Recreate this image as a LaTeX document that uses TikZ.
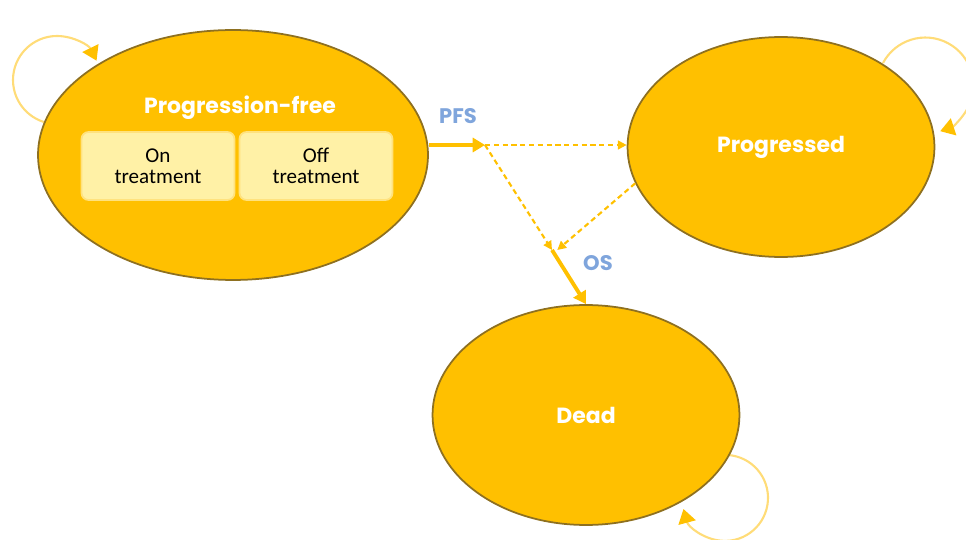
\documentclass[tikz,border=0pt]{standalone}
\usepackage{fontspec}
\usetikzlibrary{shapes.geometric}
\usetikzlibrary{arrows.meta}
\newfontfamily\gothic{Poppins}
\newfontfamily\calib{Carlito}
\definecolor{gold}{HTML}{FFC000}
\definecolor{goldedge}{HTML}{8E7020}
\definecolor{loopcol}{HTML}{FFDC78}
\definecolor{boxfill}{HTML}{FFF1A6}
\definecolor{boxedge}{HTML}{FFE27E}
\definecolor{lblue}{HTML}{7FA5DC}
\tikzset{>=stealth}
\tikzset{
	% states
	state/.style={ellipse,fill=gold,draw=goldedge,line width=1pt,text=white,font=\gothic\bfseries\fontsize{12.5}{14}\selectfont},
	title/.style={text=white,font=\gothic\bfseries\fontsize{12.5}{14}\selectfont},
	% sub boxes
	subbox/.style={rounded corners=4pt,fill=boxfill,draw=boxedge,line width=1pt,minimum width=3.06cm,minimum height=1.36cm,align=center,font=\calib\fontsize{12}{12}\selectfont,text=black},
	% arrows
	flow/.style={draw=gold,line width=2.2pt,-{Triangle[length=7pt,width=8pt]}},
	dflow/.style={draw=gold,line width=1.2pt,dash pattern=on 3pt off 2pt,-{Triangle[length=5pt,width=5pt]}},
	selfloop/.style={draw=loopcol,line width=1.2pt,-{Triangle[length=8pt,width=10pt,color=gold]}},
	lbl/.style={text=lblue,font=\gothic\bfseries\fontsize{12}{14}\selectfont},
}
\begin{document}
\begin{tikzpicture}[x=0.02cm,y=-0.02cm]
\useasboundingbox (0,0) rectangle (966,540);
% staying in a state
\draw[selfloop] (57,124) arc[start angle=90,end angle=334,radius=44];
\draw[selfloop] (883,63) arc[start angle=208,end angle=432,radius=48];
\draw[selfloop] (728,455) arc[start angle=274,end angle=525,radius=43];
% the three states
\node[state,minimum width=7.8cm,minimum height=5cm] (pfree) at (233,155) {};
\node[title] (pftitle) at (240,108) {Progression-free};
\node[subbox] (ontr) at (158,166) {On\\treatment};
\node[subbox] (offtr) at (316,166) {Off\\treatment};
\node[state,minimum width=6.14cm,minimum height=4.4cm] (prog) at (781,147) {Progressed};
\node[state,minimum width=6.14cm,minimum height=4.4cm] (dead) at (586,415) {Dead};
% branch points
\coordinate (split) at (485,145);
\coordinate (join) at (552,250);
% transitions
\draw[flow] (split -| pfree.east) -- (split);
\draw[dflow] (split) -- (split -| prog.west);
\draw[dflow] (split) -- (join);
\draw[dflow] (prog.194) -- ([xshift=3]join);
\draw[flow] (join) -- (dead.north);
\node[lbl] (pfs) at (458,116) {PFS};
\node[lbl] (os) at (598,263) {OS};
\end{tikzpicture}
\end{document}
